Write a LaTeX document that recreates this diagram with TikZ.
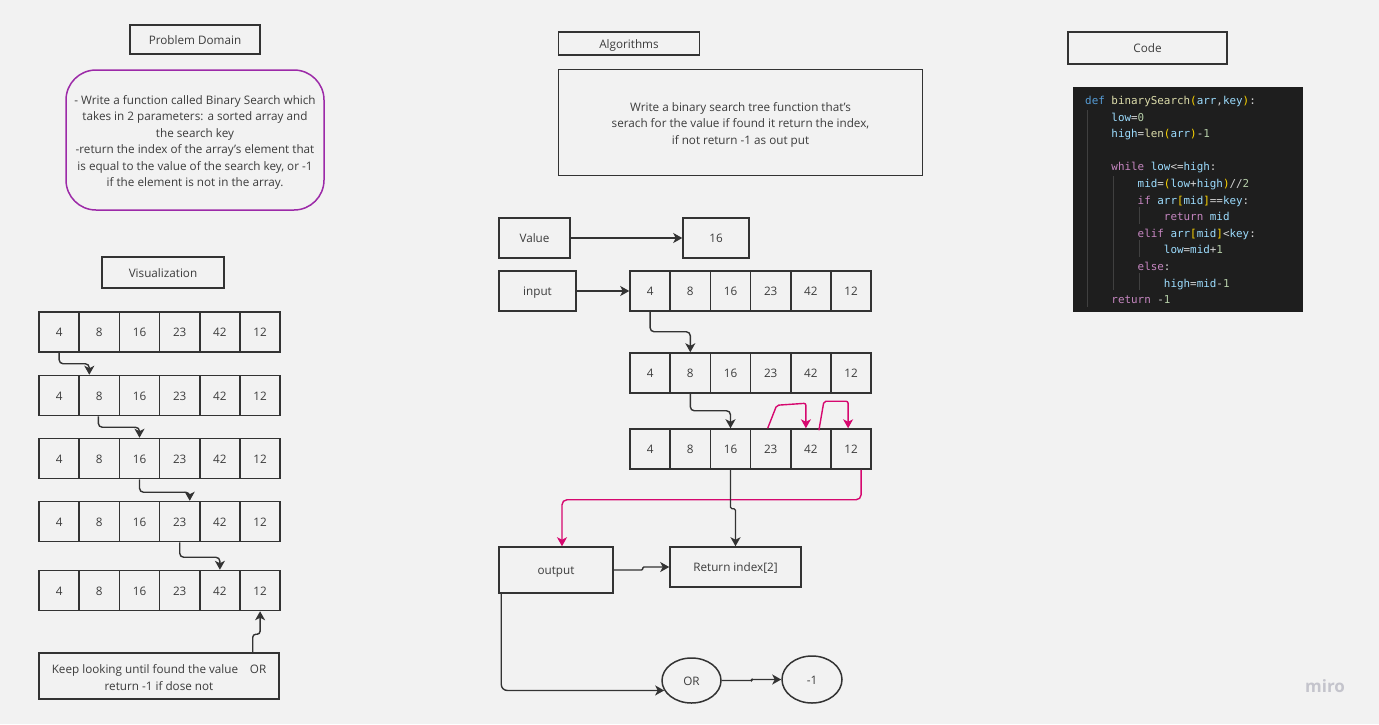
\documentclass[tikz,border=0pt]{standalone}
\usepackage{fontspec}
\setmainfont{Open Sans}
\newfontfamily\codefont{DejaVu Sans Mono}
\usetikzlibrary{shapes.geometric,arrows.meta}
\definecolor{bg}{HTML}{F2F2F2}
\definecolor{ink}{HTML}{333333}
\definecolor{txt}{HTML}{3C3C3C}
\definecolor{mag}{HTML}{D6086F}
\definecolor{purp}{HTML}{9C2AA8}
\definecolor{codebg}{HTML}{1E1E1E}
\definecolor{ckw}{HTML}{569CD6}
\definecolor{cfn}{HTML}{DCDCAA}
\definecolor{cbr}{HTML}{FFD700}
\definecolor{cvar}{HTML}{9CDCFE}
\definecolor{cop}{HTML}{D4D4D4}
\definecolor{cnum}{HTML}{B5CEA8}
\definecolor{cctl}{HTML}{C586C0}
\definecolor{guide}{HTML}{404040}
\newcommand{\KW}[1]{\textcolor{ckw}{#1}}
\newcommand{\FN}[1]{\textcolor{cfn}{#1}}
\newcommand{\BR}[1]{\textcolor{cbr}{#1}}
\newcommand{\VR}[1]{\textcolor{cvar}{#1}}
\newcommand{\NM}[1]{\textcolor{cnum}{#1}}
\newcommand{\CT}[1]{\textcolor{cctl}{#1}}
\newcommand{\IND}[1]{\phantom{#1}}
\newcommand{\myrow}[3]{\foreach \v [count=\i] in {4,8,16,23,42,12} \node[cell] (#1\i) at ({#2+20.1+40.2*(\i-1)}, #3) {\v};}
\begin{document}
\begin{tikzpicture}[x=1pt,y=-1pt,
  box/.style={draw=ink, line width=1.5pt, fill=bg, inner sep=0pt, text=txt, font=\fontsize{11.7}{16.5}\selectfont, align=center, text height=9pt, text depth=0pt},
  cell/.style={box, minimum width=40.2pt, minimum height=40pt},
  oval/.style={box, ellipse},
  plain/.style={inner sep=0pt, text=txt, font=\fontsize{11.7}{16.5}\selectfont, align=center},
  arr/.style={draw=ink, line width=1.4pt, -{Stealth[length=9pt,width=10pt,inset=2.5pt]}, rounded corners=4pt},
  marr/.style={arr, draw=mag},
  code/.style={anchor=base west, inner sep=0pt, text=cop, font=\codefont\fontsize{10.9}{16.6}\selectfont}]
\useasboundingbox (0,0) rectangle (1379,724);
\fill[bg] (0,0) rectangle (1379,724);

% ---------- Problem domain ----------
\node[box, minimum width=130pt, minimum height=29pt] (pd) at (195,39.5) {Problem Domain};
\node[box, draw=purp, rounded corners=30pt, minimum width=258pt, minimum height=140pt] (pdbox) at (195,140) {};
\node[plain] (pdtext) at ([yshift=-2.5pt]pdbox.center)
  {- Write a function called Binary Search which\\ takes in 2 parameters: a sorted array and\\ the search key\\ -return the index of the array’s element that\\ is equal to the value of the search key, or -1\\ if the element is not in the array.};

% ---------- Visualization ----------
\node[box, minimum width=122pt, minimum height=31pt] (viz) at (163,272.5) {Visualization};
\myrow{va}{39}{332}
\myrow{vb}{39}{395.5}
\myrow{vc}{39}{458.5}
\myrow{vd}{39}{521.5}
\myrow{ve}{39}{590.5}
\node[box, minimum width=240pt, minimum height=46pt] (keep) at (159,676) {};
\node[plain] (keeptext) at ([yshift=-1.5pt]keep.center)
  {Keep looking until found the value\quad OR\\ return -1 if dose not};
\draw[arr] (va1.south) -- ++(0,11) -| ([xshift=-10pt]vb2.north);
\draw[arr] ([xshift=-1pt]vb2.south) -- ++(0,11) -| (vc3.north);
\draw[arr] (vc3.south) -- ++(0,13) -| ([xshift=10pt]vd4.north);
\draw[arr] (vd4.south) -- ++(0,15) -| (ve5.north);
\draw[arr, rounded corners=3pt] ([xshift=-27pt]keep.north east) -- ++(0,-18) -| (ve6.south);

% ---------- Algorithms ----------
\node[box, minimum width=141pt, minimum height=23pt] (alg) at (629,43.5) {Algorithms};
\node[box, minimum width=364pt, minimum height=106pt] (algbox) at (740.5,122.5) {};
\node[plain] (algtext) at ([yshift=-2pt]algbox.center)
  {Write a binary search tree function that’s\\ serach for the value if found it return the index,\\ if not return -1 as out put};
\node[box, minimum width=71pt, minimum height=40pt] (val) at (534.5,238) {Value};
\node[box, minimum width=66pt, minimum height=40pt] (v16) at (716,238) {16};
\node[box, minimum width=77pt, minimum height=40pt] (inp) at (537.5,291) {input};
\myrow{a}{630}{291}
\myrow{b}{630}{373}
\myrow{c}{630}{449}
\node[box, minimum width=114pt, minimum height=46pt] (out) at (556,570) {output};
\node[box, minimum width=131pt, minimum height=40pt] (ret) at (735.5,567) {Return index[2]};
\node[oval, minimum width=59pt, minimum height=45pt] (or) at (691.5,680.5) {OR};
\node[oval, minimum width=60pt, minimum height=47pt] (m1) at (812,679.5) {-1};

\draw[arr] (val.east) -- (v16.west);
\draw[arr] (inp.east) -- (a1.west);
\draw[arr] (a1.south) -- ++(0,20) -| (b2.north);
\draw[arr] (b2.south) -- ++(0,17) -| (c3.north);
\draw[marr, rounded corners=2pt] ([xshift=-3pt]c4.north) -- ([xshift=6pt,yshift=23pt]c4.north) -- ([xshift=-5pt,yshift=25pt]c5.north) -- ([xshift=-5pt]c5.north);
\draw[marr, rounded corners=2pt] ([xshift=8pt,yshift=-2pt]c5.north) -- ([xshift=13pt,yshift=27pt]c5.north) -- ([xshift=-3pt,yshift=27pt]c6.north) -- ([xshift=-3pt]c6.north);
\draw[marr, rounded corners=5pt] ([xshift=10pt]c6.south) -- ++(0,30) -| ([xshift=6pt]out.north);
\draw[arr, rounded corners=1.5pt] (c3.south) -- ++(0,39) -| (ret.north);
\draw[arr, rounded corners=1.2pt] (out.east) -- ++(29,0) |- (ret.west);
\draw[arr, rounded corners=6pt] ([xshift=3pt]out.south west) |- (or.200);
\draw[arr, rounded corners=0.8pt] (or.east) -- ++(30,0) |- (m1.west);

% ---------- Code ----------
\node[box, minimum width=159pt, minimum height=32pt] (codet) at (1147.5,48) {Code};
\fill[codebg] (1073,87) rectangle (1303,312);
\draw[guide, line width=0.8pt] (1087,110) -- (1087,307);
\draw[guide, line width=0.8pt] (1113,176) -- (1113,290);
\draw[guide, line width=0.8pt] (1139,207) -- (1139,224);
\draw[guide, line width=0.8pt] (1139,240) -- (1139,257);
\draw[guide, line width=0.8pt] (1139,273) -- (1139,290);
\node[code] (l1) at (1085,104.5) {\KW{def} \FN{binarySearch}\BR{(}\VR{arr},\VR{key}\BR{)}:};
\node[code] (l2) at (1085,121.1) {\IND{xxxx}\VR{low}=\NM{0}};
\node[code] (l3) at (1085,137.7) {\IND{xxxx}\VR{high}=\FN{len}\BR{(}\VR{arr}\BR{)}-\NM{1}};
\node[code] (l5) at (1085,170.9) {\IND{xxxx}\CT{while} \VR{low}<=\VR{high}:};
\node[code] (l6) at (1085,187.5) {\IND{xxxxxxxx}\VR{mid}=\BR{(}\VR{low}+\VR{high}\BR{)}//\NM{2}};
\node[code] (l7) at (1085,204.1) {\IND{xxxxxxxx}\CT{if} \VR{arr}\BR{[}\VR{mid}\BR{]}==\VR{key}:};
\node[code] (l8) at (1085,220.7) {\IND{xxxxxxxxxxxx}\CT{return} \VR{mid}};
\node[code] (l9) at (1085,237.3) {\IND{xxxxxxxx}\CT{elif} \VR{arr}\BR{[}\VR{mid}\BR{]}<\VR{key}:};
\node[code] (l10) at (1085,253.9) {\IND{xxxxxxxxxxxx}\VR{low}=\VR{mid}+\NM{1}};
\node[code] (l11) at (1085,270.5) {\IND{xxxxxxxx}\CT{else}:};
\node[code] (l12) at (1085,287.1) {\IND{xxxxxxxxxxxx}\VR{high}=\VR{mid}-\NM{1}};
\node[code] (l13) at (1085,303.7) {\IND{xxxx}\CT{return} -\NM{1}};

% ---------- watermark ----------
\node[inner sep=0pt, text={rgb,255:red,196;green,196;blue,204}, font=\fontsize{17}{17}\selectfont\bfseries] (miro) at (1325,686) {miro};
\end{tikzpicture}
\end{document}
